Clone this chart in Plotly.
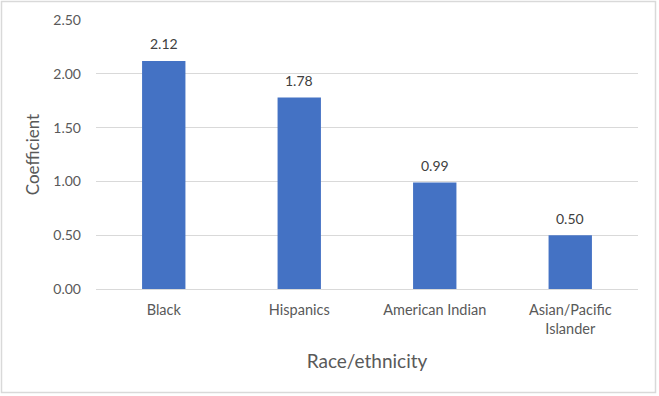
import plotly.graph_objects as go

categories = ["Black", "Hispanics", "American Indian", "Asian/Pacific<br>Islander"]
values = [2.12, 1.78, 0.99, 0.50]
y_ticks = [0, 0.5, 1.0, 1.5, 2.0, 2.5]
y_tick_labels = ["0.00", "0.50", "1.00", "1.50", "2.00", "2.50"]

W, H = 659, 396
L, R, T, B = 96, 21, 20, 107
pw, ph = W - L - R, H - T - B

def px(x):
    return (x - L) / pw

def py(y):
    return (H - B - y) / ph

FONT = "Lato"

fig = go.Figure(go.Bar(
    x=categories, y=values,
    marker=dict(color="#4472C4", line=dict(width=0)),
    width=0.32,
))

for c, v in zip(categories, values):
    fig.add_annotation(
        x=c, y=v, text=f"{v:.2f}", showarrow=False,
        yanchor="middle", yshift=17,
        font=dict(size=14, color="#404040", family=FONT),
    )

fig.update_layout(
    width=W, height=H,
    margin=dict(l=L, r=R, t=T, b=B),
    paper_bgcolor="white", plot_bgcolor="white",
    font=dict(family=FONT, size=14, color="#595959"),
    showlegend=False,
    xaxis=dict(
        showgrid=False, showline=True, linecolor="#d9d9d9", linewidth=1,
        ticks="", tickfont=dict(size=14.5, color="#595959"),
        ticklabelstandoff=8,
        title=dict(text="Race/ethnicity", font=dict(size=19, color="#595959"), standoff=18),
    ),
    yaxis=dict(
        range=[0, 2.5], tickvals=y_ticks, ticktext=y_tick_labels,
        showgrid=True, gridcolor="#d9d9d9", gridwidth=1,
        zeroline=False, showline=False, ticks="",
        tickfont=dict(size=14, color="#595959"),
        ticklabelstandoff=14,
        title=dict(text="Coefficient", font=dict(size=17, color="#595959"), standoff=9),
    ),
    shapes=[dict(
        type="rect", xref="paper", yref="paper",
        x0=px(1.5), x1=px(655.5), y0=py(392.5), y1=py(1.5),
        line=dict(color="#d9d9d9", width=1.5), fillcolor="rgba(0,0,0,0)", layer="below",
    )],
)

fig.write_html(
    "out.html",
    config={"displayModeBar": False},
    post_script="document.body.style.margin='0';document.body.style.overflow='hidden';",
)
